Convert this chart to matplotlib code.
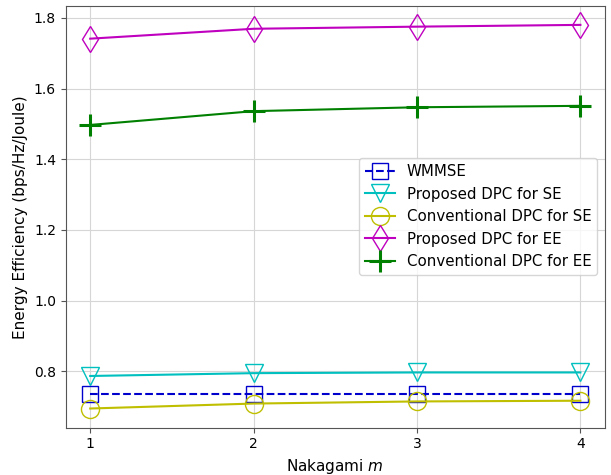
import matplotlib
matplotlib.use("Agg")
import matplotlib.pyplot as plt

# ===================== DADOS =====================
nakagami_m = [1, 2, 3, 4]
ee_wmmse = [0.737, 0.737, 0.737, 0.737]
ee_prop_se = [0.787, 0.795, 0.797, 0.797]
ee_conv_se = [0.695, 0.709, 0.715, 0.717]
ee_prop_ee = [1.741, 1.769, 1.775, 1.780]
ee_conv_ee = [1.497, 1.536, 1.547, 1.551]

# ===================== FIGURA =====================
fig = plt.figure(figsize=(6.11, 4.75), dpi=100)
ax = fig.add_axes([0.1075, 0.0996, 0.8825, 0.8884])

ax.plot(nakagami_m, ee_wmmse, color="mediumblue", linestyle="--", marker="s",
        markersize=12, markerfacecolor="none", label="WMMSE")
ax.plot(nakagami_m, ee_prop_se, color="c", marker="v",
        markersize=13, markerfacecolor="none", label="Proposed DPC for SE")
ax.plot(nakagami_m, ee_conv_se, color="y", marker="o",
        markersize=13, markerfacecolor="none", label="Conventional DPC for SE")
ax.plot(nakagami_m, ee_prop_ee, color="m", marker="d",
        markersize=13, markerfacecolor="none", label="Proposed DPC for EE")
ax.plot(nakagami_m, ee_conv_ee, color="g", marker="+",
        markersize=16, markeredgewidth=2.2, label="Conventional DPC for EE")

ax.set_xticks(nakagami_m)
ax.set_xlabel("Nakagami $m$", fontsize=11)
ax.set_ylabel("Energy Efficiency (bps/Hz/Joule)", fontsize=11)
ax.grid(True, color="#d6d6d6")
for s in ax.spines.values():
    s.set_edgecolor("#555555")
ax.tick_params(color="#555555")
ax.legend(loc="center right", fontsize=10.8)

fig.savefig("out.png", dpi=100)
